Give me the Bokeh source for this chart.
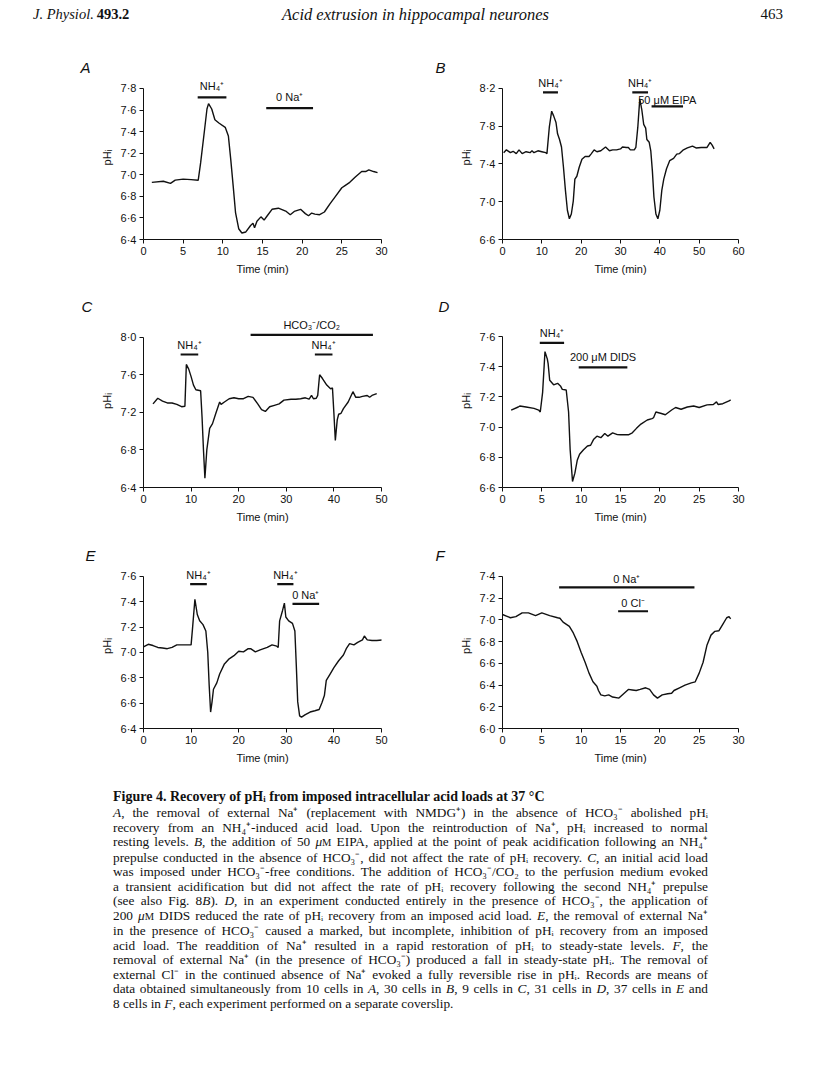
from bokeh.plotting import figure
from bokeh.models import FixedTicker, CustomJSTickFormatter, Range1d, Div
from bokeh.layouts import column, row
from bokeh.core.properties import value
from bokeh.embed import file_html
from bokeh.resources import INLINE

# ---------------- data ----------------
A_t = [1.05, 2.5, 3.4, 4.0, 5.0, 6.0, 6.9, 7.2, 7.7, 8.0, 8.2, 8.6, 9.0, 9.5, 10.3, 10.7, 11.0, 11.3, 11.6, 12.0,
       12.4, 12.9, 13.5, 13.8, 14.0, 14.3, 14.8, 15.2, 15.6, 16.2, 17.0, 18.0, 18.5, 19.0, 19.8, 20.4, 20.8, 21.2, 21.6, 22.2,
       22.8, 23.5, 24.2, 25.0, 25.4, 26.0, 26.7, 27.5, 28.0, 28.4, 29.0, 29.5]
A_ph = [6.93, 6.94, 6.92, 6.95, 6.96, 6.955, 6.95, 7.11, 7.42, 7.61, 7.66, 7.61, 7.51, 7.48, 7.44, 7.36, 7.14, 6.90, 6.65, 6.50,
        6.46, 6.47, 6.53, 6.55, 6.51, 6.57, 6.61, 6.58, 6.62, 6.68, 6.69, 6.66, 6.63, 6.66, 6.68, 6.64, 6.62, 6.645, 6.635, 6.63,
        6.655, 6.73, 6.80, 6.88, 6.90, 6.93, 6.98, 7.03, 7.03, 7.045, 7.03, 7.02]
A_bar_start = [6.83, 15.47]
A_bar_end = [10.45, 21.37]
A_bar_level = [7.717, 7.618]
A_bar_text = ["NH₄⁺", "0 Na⁺"]

B_t = [0.3, 1.0, 2.0, 2.7, 3.5, 4.2, 5.0, 6.0, 7.0, 7.5, 8.0, 9.0, 10.0, 11.0, 11.3, 11.9, 12.5, 13.0, 13.6, 14.0,
       14.5, 15.0, 15.5, 16.0, 16.5, 17.0, 17.5, 18.0, 18.4, 18.9, 19.5, 20.2, 21.0, 22.0, 22.5, 23.3, 24.0, 25.0, 26.2, 27.2,
       28.0, 29.0, 30.0, 30.5, 31.5, 32.0, 32.5, 33.5, 33.9, 34.4, 34.9, 35.4, 35.9, 36.4, 36.7, 37.3, 37.7, 38.1, 38.5, 39.0,
       39.5, 40.0, 40.5, 41.0, 41.7, 42.5, 43.5, 44.3, 45.0, 46.0, 47.0, 48.3, 49.2, 50.5, 52.0, 52.8, 53.3, 53.8]
B_ph = [7.52, 7.55, 7.52, 7.535, 7.51, 7.55, 7.51, 7.53, 7.52, 7.54, 7.52, 7.54, 7.53, 7.52, 7.51, 7.79, 7.96, 7.91, 7.84, 7.72,
        7.66, 7.58, 7.365, 7.12, 6.91, 6.82, 6.87, 7.01, 7.24, 7.27, 7.365, 7.45, 7.48, 7.48, 7.505, 7.55, 7.53, 7.54, 7.58, 7.54,
        7.55, 7.55, 7.56, 7.58, 7.575, 7.575, 7.55, 7.55, 7.575, 7.79, 8.09, 7.98, 7.82, 7.78, 7.66, 7.63, 7.54, 7.33, 7.05, 6.87,
        6.82, 6.91, 7.12, 7.24, 7.35, 7.435, 7.46, 7.505, 7.51, 7.55, 7.57, 7.59, 7.57, 7.575, 7.575, 7.63, 7.60, 7.56]
B_bar_start = [10.3, 33.0, 37.9]
B_bar_end = [14.1, 37.0, 45.9]
B_bar_level = [8.158, 8.158, 8.01]
B_bar_text = ["NH₄⁺", "NH₄⁺", "50 μM EIPA"]

C_t = [2, 3, 4, 5, 6, 7, 8, 8.7, 9, 9.5, 10, 10.5, 11, 12, 12.3, 12.6, 12.9, 13.3, 13.9, 14.5,
       15.2, 16, 16.3, 17, 18, 19, 20, 21, 22, 23, 24, 24.8, 25.6, 26.5, 27.5, 28.5, 29.5, 31, 32, 33,
       34, 34.8, 35.3, 35.7, 36.3, 36.6, 37, 37.6, 38.5, 39.3, 39.7, 40, 40.3, 40.7, 41, 41.5, 42, 43, 44, 44.6,
       45.3, 46, 47, 47.5, 48, 49]
C_ph = [7.29, 7.35, 7.32, 7.30, 7.30, 7.285, 7.26, 7.265, 7.71, 7.66, 7.58, 7.49, 7.44, 7.43, 7.15, 6.80, 6.50, 6.80, 7.03, 7.08,
        7.19, 7.31, 7.285, 7.31, 7.345, 7.355, 7.345, 7.345, 7.37, 7.36, 7.29, 7.23, 7.21, 7.26, 7.275, 7.29, 7.33, 7.34, 7.34, 7.345,
        7.355, 7.34, 7.38, 7.345, 7.35, 7.38, 7.60, 7.56, 7.49, 7.45, 7.46, 7.19, 6.90, 7.12, 7.18, 7.19, 7.24, 7.31, 7.42, 7.36,
        7.36, 7.37, 7.38, 7.36, 7.38, 7.40]
C_bar_start = [22.5, 7.8, 36.0]
C_bar_end = [48.2, 11.5, 39.7]
C_bar_level = [8.025, 7.816, 7.816]
C_bar_text = ["HCO₃⁻/CO₂", "NH₄⁺", "NH₄⁺"]

D_t = [1.1, 2.0, 2.2, 3, 4, 4.6, 4.8, 5.1, 5.3, 5.4, 5.7, 5.8, 6, 6.5, 7, 7.4, 7.6, 8.1, 8.4, 8.6,
       8.9, 9.2, 9.5, 9.8, 10.3, 10.8, 11.2, 11.6, 12, 12.5, 13, 13.4, 14, 14.6, 15, 16, 16.5, 17, 17.6, 18.4,
       19, 19.2, 19.5, 20.2, 20.7, 21.5, 22, 22.7, 23.5, 24.3, 25, 26, 26.8, 27.2, 27.4, 28, 28.8, 29]
D_ph = [7.113, 7.133, 7.14, 7.133, 7.124, 7.113, 7.10, 7.23, 7.41, 7.50, 7.45, 7.42, 7.31, 7.28, 7.29, 7.27, 7.25, 7.246, 7.10, 6.85,
        6.64, 6.695, 6.78, 6.82, 6.85, 6.875, 6.88, 6.92, 6.94, 6.93, 6.958, 6.94, 6.962, 6.95, 6.949, 6.949, 6.962, 6.99, 7.02, 7.047,
        7.056, 7.062, 7.10, 7.09, 7.082, 7.113, 7.13, 7.118, 7.133, 7.14, 7.13, 7.147, 7.15, 7.167, 7.15, 7.155, 7.173, 7.18]
D_bar_start = [4.74, 9.69]
D_bar_end = [7.83, 15.87]
D_bar_level = [7.558, 7.396]
D_bar_text = ["NH₄⁺", "200 μM DIDS"]

E_t = [0, 1, 2, 3, 4, 5, 6, 7, 8, 9, 10, 10.3, 10.8, 11.3, 11.8, 12.5, 13.1, 13.5, 13.8, 14.1,
       14.4, 14.7, 15.4, 16, 17, 18, 19, 20, 21, 22, 22.5, 23.5, 24.5, 26, 27, 28, 28.3, 28.6, 29.2, 29.6,
       29.9, 30.5, 31.3, 31.8, 32.1, 32.4, 32.8, 33.2, 34, 35, 36, 36.9, 37.5, 38, 38.4, 39.2, 40, 41, 42, 42.6,
       43.3, 44.2, 45, 46, 46.4, 47, 48, 49, 50.5]
E_ph = [7.045, 7.065, 7.055, 7.04, 7.035, 7.03, 7.04, 7.06, 7.06, 7.06, 7.06, 7.19, 7.42, 7.30, 7.25, 7.22, 7.17, 7.0, 6.74, 6.53,
        6.61, 6.71, 6.76, 6.83, 6.91, 6.95, 6.975, 7.01, 7.005, 7.03, 7.03, 7.005, 7.02, 7.04, 7.06, 7.05, 7.04, 7.25, 7.33, 7.39,
        7.28, 7.25, 7.23, 7.17, 6.90, 6.61, 6.50, 6.49, 6.51, 6.53, 6.54, 6.55, 6.605, 6.66, 6.78, 6.83, 6.88, 6.935, 6.98, 7.03,
        7.07, 7.06, 7.08, 7.10, 7.13, 7.10, 7.095, 7.095, 7.10]
E_bar_start = [9.8, 28.1, 31.3]
E_bar_end = [13.3, 31.5, 36.9]
E_bar_level = [7.54, 7.54, 7.384]
E_bar_text = ["NH₄⁺", "NH₄⁺", "0 Na⁺"]

F_t = [0, 0.5, 1, 1.7, 2.5, 3.3, 4.2, 5, 6, 7, 7.3, 7.7, 8.5, 9, 9.5, 10, 10.5, 11, 11.5, 12,
       12.2, 12.5, 13, 13.5, 14, 14.8, 15.4, 16, 16.5, 17, 17.5, 18.2, 18.7, 19.2, 19.7, 20.3, 21, 21.5, 21.8, 22.5,
       23.2, 24, 24.5, 25, 25.5, 26, 26.5, 27, 27.5, 28, 28.5, 28.8, 29]
F_ph = [7.05, 7.035, 7.02, 7.03, 7.065, 7.065, 7.04, 7.065, 7.04, 7.02, 7.015, 6.98, 6.94, 6.88, 6.80, 6.70, 6.61, 6.51, 6.43, 6.39,
        6.35, 6.31, 6.30, 6.31, 6.29, 6.28, 6.32, 6.36, 6.355, 6.35, 6.36, 6.375, 6.36, 6.31, 6.28, 6.31, 6.32, 6.325, 6.35, 6.375,
        6.40, 6.42, 6.43, 6.51, 6.61, 6.77, 6.86, 6.895, 6.90, 6.96, 7.02, 7.03, 7.01]
F_bar_start = [7.2, 14.7]
F_bar_end = [24.4, 18.5]
F_bar_level = [7.30, 7.08]
F_bar_text = ["0 Na⁺", "0 Cl⁻"]

A_xticks = [0, 5, 10, 15, 20, 25, 30]
A_yticks = [6.4, 6.6, 6.8, 7.0, 7.2, 7.4, 7.6, 7.8]
B_xticks = [0, 10, 20, 30, 40, 50, 60]
B_yticks = [6.6, 7.0, 7.4, 7.8, 8.2]
C_xticks = [0, 10, 20, 30, 40, 50]
C_yticks = [6.4, 6.8, 7.2, 7.6, 8.0]
D_xticks = [0, 5, 10, 15, 20, 25, 30]
D_yticks = [6.6, 6.8, 7.0, 7.2, 7.4, 7.6]
E_xticks = [0, 10, 20, 30, 40, 50]
E_yticks = [6.4, 6.6, 6.8, 7.0, 7.2, 7.4, 7.6]
F_xticks = [0, 5, 10, 15, 20, 25, 30]
F_yticks = [6.0, 6.2, 6.4, 6.6, 6.8, 7.0, 7.2, 7.4]

# ---------------- styling / layout ----------------
SANS = "Liberation Sans"
INK = "#111111"


def panel(letter, t, ph, xticks, yticks, y_end, bar_start, bar_end, bar_level, bar_text, label_offsets,
          frame_w, frame_h, bl, br, bt, bb, letter_offset):
    p = figure(title=letter, frame_width=frame_w, frame_height=frame_h,
               min_border_left=bl, min_border_right=br, min_border_top=bt, min_border_bottom=bb,
               x_range=Range1d(xticks[0], xticks[-1]), y_range=Range1d(yticks[0], y_end),
               output_backend="svg", toolbar_location=None, tools="")
    p.outline_line_color = None
    p.grid.visible = False
    p.background_fill_color = "white"
    p.border_fill_color = "white"

    p.title.align = "left"
    p.title.offset = letter_offset
    p.title.standoff = 0
    p.title.text_font = SANS
    p.title.text_font_style = "italic"
    p.title.text_font_size = "15px"
    p.title.text_color = INK

    p.line(t, ph, line_color=INK, line_width=1.4)
    p.segment(x0=bar_start, y0=bar_level, x1=bar_end, y1=bar_level, line_color=INK, line_width=2.2)
    mids = [(a + b) / 2 for a, b in zip(bar_start, bar_end)]
    p.text(x=mids, y=bar_level, text=bar_text, y_offset=label_offsets,
           text_font=value(SANS), text_font_size=value("11px"), text_color=INK,
           text_align="center", text_baseline="middle")

    for ax in (p.xaxis[0], p.yaxis[0]):
        ax.axis_line_color = INK
        ax.axis_line_width = 1
        ax.major_tick_line_color = INK
        ax.major_tick_out = 4
        ax.major_tick_in = 0
        ax.minor_tick_line_color = None
        ax.major_label_text_font = SANS
        ax.major_label_text_font_size = "11px"
        ax.major_label_text_color = INK
        ax.axis_label_text_font = SANS
        ax.axis_label_text_font_size = "11px"
        ax.axis_label_text_font_style = "normal"
        ax.axis_label_text_color = INK
        ax.major_label_standoff = 3
        ax.axis_label_standoff = 5

    p.xaxis[0].ticker = FixedTicker(ticks=xticks)
    p.xaxis[0].bounds = (xticks[0], xticks[-1])
    p.xaxis[0].axis_label = "Time (min)"
    p.yaxis[0].ticker = FixedTicker(ticks=yticks)
    p.yaxis[0].bounds = (yticks[0], yticks[-1])
    p.yaxis[0].formatter = CustomJSTickFormatter(code="return tick.toFixed(1).replace('.', '\u00b7');")
    p.yaxis[0].axis_label = "pHᵢ"
    return p


LW, LBL, LBR = 238, 135, 49
RW, RBL, RBR = 236, 72, 70

pA = panel("A", A_t, A_ph, A_xticks, A_yticks, 7.9205, A_bar_start, A_bar_end, A_bar_level, A_bar_text,
           [-11, -11], LW, 164, LBL, LBR, 25, 51, -63)
pB = panel("B", B_t, B_ph, B_xticks, B_yticks, 8.3377, B_bar_start, B_bar_end, B_bar_level, B_bar_text,
           [-9.5, -9.5, -6], RW, 164, RBL, RBR, 25, 51, -67)
pC = panel("C", C_t, C_ph, C_xticks, C_yticks, 8.2416, C_bar_start, C_bar_end, C_bar_level, C_bar_text,
           [-10, -9, -9], LW, 173, LBL, LBR, 24, 53, -62)
pD = panel("D", D_t, D_ph, D_xticks, D_yticks, 7.7457, D_bar_start, D_bar_end, D_bar_level, D_bar_text,
           [-10, -10.5], RW, 173, RBL, RBR, 24, 53, -64)
pE = panel("E", E_t, E_ph, E_xticks, E_yticks, 7.7026, E_bar_start, E_bar_end, E_bar_level, E_bar_text,
           [-9.5, -9.5, -8.5], LW, 165, LBL, LBR, 23, 52, -58)
pF = panel("F", F_t, F_ph, F_xticks, F_yticks, 7.5197, F_bar_start, F_bar_end, F_bar_level, F_bar_text,
           [-8.5, -8.5], RW, 165, RBL, RBR, 23, 52, -67)

header_html = """
<div style="position:relative;width:800px;height:42px;font-family:'Liberation Serif',serif;color:#111;line-height:15px;">
<span style="position:absolute;left:25px;top:-1px;font-size:14.5px;white-space:nowrap;"><i>J. Physiol.</i>&thinsp;<b>493.2</b></span>
<span style="position:absolute;left:274px;top:-1px;font-size:16.5px;font-style:italic;white-space:nowrap;">Acid extrusion in hippocampal neurones</span>
<span style="position:absolute;right:25px;top:-1px;font-size:15px;white-space:nowrap;">463</span>
</div>
"""
header = Div(text=header_html, width=800, height=42, margin=0)

cap_lines = [
    "<i>A</i>, the removal of external Na⁺ (replacement with NMDG⁺) in the absence of HCO₃⁻ abolished pHᵢ",
    "recovery from an NH₄⁺-induced acid load. Upon the reintroduction of Na⁺, pHᵢ increased to normal",
    "resting levels. <i>B</i>, the addition of 50 <i>μ</i><small>M</small> EIPA, applied at the point of peak acidification following an NH₄⁺",
    "prepulse conducted in the absence of HCO₃⁻, did not affect the rate of pHᵢ recovery. <i>C</i>, an initial acid load",
    "was imposed under HCO₃⁻-free conditions. The addition of HCO₃⁻/CO₂ to the perfusion medium evoked",
    "a transient acidification but did not affect the rate of pHᵢ recovery following the second NH₄⁺ prepulse",
    "(see also Fig. 8<i>B</i>). <i>D</i>, in an experiment conducted entirely in the presence of HCO₃⁻, the application of",
    "200 <i>μ</i><small>M</small> DIDS reduced the rate of pHᵢ recovery from an imposed acid load. <i>E</i>, the removal of external Na⁺",
    "in the presence of HCO₃⁻ caused a marked, but incomplete, inhibition of pHᵢ recovery from an imposed",
    "acid load. The readdition of Na⁺ resulted in a rapid restoration of pHᵢ to steady-state levels. <i>F</i>, the",
    "removal of external Na⁺ (in the presence of HCO₃⁻) produced a fall in steady-state pHᵢ. The removal of",
    "external Cl⁻ in the continued absence of Na⁺ evoked a fully reversible rise in pHᵢ. Records are means of",
    "data obtained simultaneously from 10 cells in <i>A</i>, 30 cells in <i>B</i>, 9 cells in <i>C</i>, 31 cells in <i>D</i>, 37 cells in <i>E</i> and",
    "8 cells in <i>F</i>, each experiment performed on a separate coverslip.",
]
body = "".join(
    '<div class="j">%s</div>' % ln if i < len(cap_lines) - 1 else '<div>%s</div>' % ln
    for i, ln in enumerate(cap_lines)
)
caption_html = """
<style>
.cap { box-sizing:border-box; font-family:'Liberation Serif',serif; font-size:13.3px; line-height:14.5px; color:#111;
       padding-left:105px; padding-top:10px; width:700px; }
.cap small { font-size:10.5px; }
.cap .j { text-align:justify; text-align-last:justify; }
.cap .t { font-weight:bold; font-size:14px; margin-bottom:1.5px; }
</style>
<div class="cap">
<div class="t">Figure 4. Recovery of pHᵢ from imposed intracellular acid loads at 37 °C</div>
%s
</div>
""" % body
caption = Div(text=caption_html, width=800, height=235, margin=0)

layout = column(header, row(pA, pB, spacing=0), row(pC, pD, spacing=0), row(pE, pF, spacing=0), caption,
                spacing=0)
layout.margin = (8, 0, 0, 8)

open("out.html", "w").write(file_html(layout, INLINE))
